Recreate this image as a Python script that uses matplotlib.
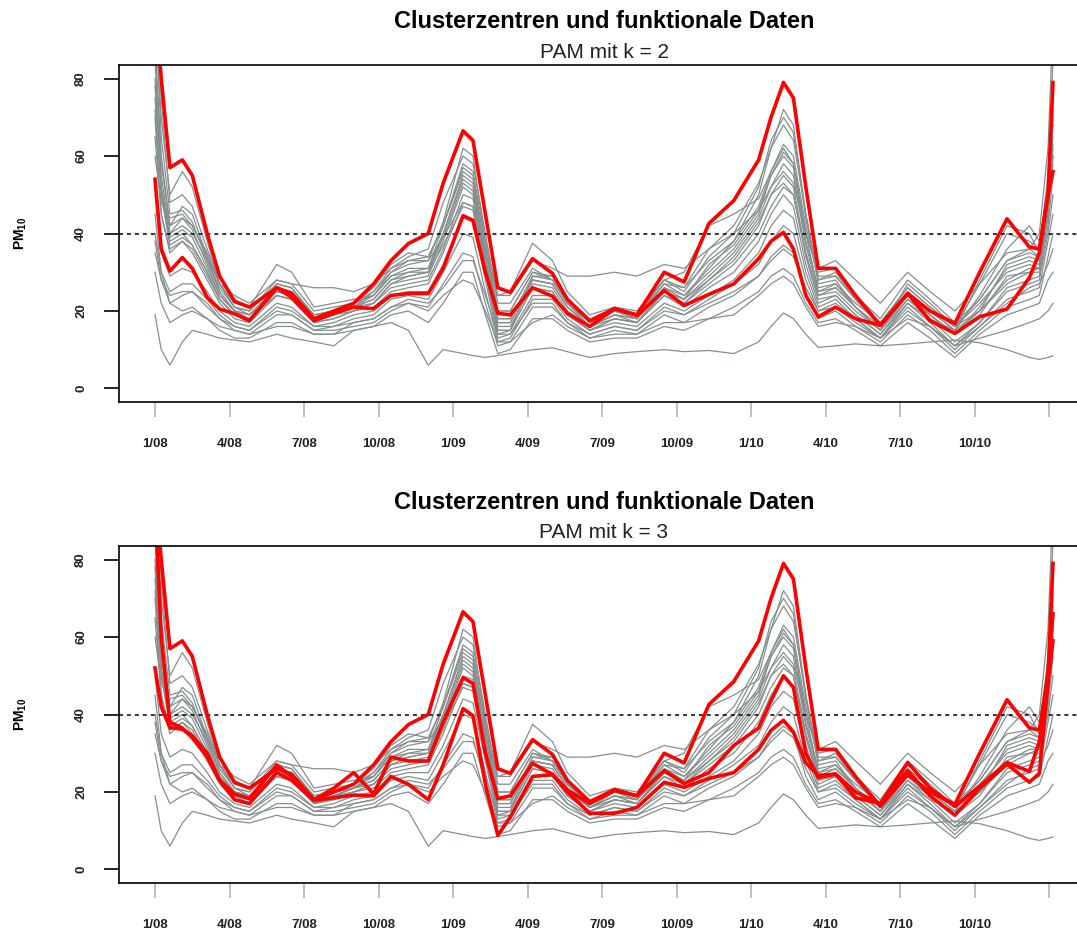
import matplotlib.pyplot as plt

plt.rcParams['font.family'] = 'Liberation Sans'
plt.rcParams['mathtext.fontset'] = 'custom'
plt.rcParams['mathtext.rm'] = 'Liberation Sans'
plt.rcParams['mathtext.bf'] = 'Liberation Sans:bold'

# months since 1/2008
months = [0, 0.25, 0.6, 1.1, 1.5, 2.1, 2.6, 3.2, 3.8, 4.9,
          5.5, 6.4, 7.2, 8.0, 8.8, 9.5, 10.2, 11.0, 11.6, 12.4,
          12.8, 13.3, 13.8, 14.3, 15.2, 16.0, 16.6, 17.5, 18.5, 19.4,
          20.5, 21.3, 22.3, 23.3, 24.3, 24.8, 25.3, 25.7, 26.2, 26.7,
          27.4, 28.2, 29.2, 30.3, 31.2, 32.2, 33.2, 34.3, 35.2, 35.6,
          35.95, 36.15]

tick_months = [0, 3, 6, 9, 12, 15, 18, 21, 24, 27, 30, 33, 36]
tick_labels = ['1/08', '4/08', '7/08', '10/08', '1/09', '4/09', '7/09',
               '10/09', '1/10', '4/10', '7/10', '10/10', '']
y_ticks = [0, 20, 40, 60, 80]
limit = 40  # PM10 daily limit

# cluster centres (PAM)
center_high = [100, 80, 57, 59, 55, 40, 29, 22.5, 21, 26,
               24.5, 18, 20, 22, 27, 33, 37.4, 40, 53, 66.5,
               64, 45, 26, 24.8, 33.5, 29.7, 23, 17.5, 20.6, 19,
               30, 27.5, 42.6, 48.5, 59, 70, 79, 75, 52, 31,
               31, 24, 16.3, 24.5, 20, 16.8, 30, 43.8, 36.5, 36,
               50, 79]
center_low = [54, 36, 30.3, 33.8, 31, 23.5, 20.5, 19.3, 17.5, 26,
              23.5, 17.5, 19.4, 21, 20.6, 24, 24.5, 24.5, 31, 44.6,
              43.4, 30, 19.4, 19, 26, 23.8, 19.4, 16, 20.6, 18.8,
              25.3, 21.4, 24.3, 27, 33.5, 38, 40.3, 36, 24, 18.5,
              21, 18, 16.3, 24.5, 17.5, 14.2, 18.5, 20.5, 28.6, 35,
              50, 56]
center_mid3 = [95, 60, 38, 36.5, 34, 29, 23, 19.5, 18.3, 27,
               24, 18, 21, 25, 19.5, 29, 28, 28, 38, 49.5,
               48, 30, 18.3, 19, 27.4, 24.5, 20.5, 17, 20.4, 19,
               25.5, 22.2, 25, 32, 36.5, 43.6, 50, 47, 30, 23.7,
               24.6, 20, 17, 27.6, 21, 16.3, 21.5, 27.6, 25.3, 33,
               50.6, 66]
center_low3 = [52, 42, 36.6, 36.2, 34.5, 30, 23, 18, 17, 25,
               23, 17.8, 18.5, 19.2, 19, 24, 22, 18, 27, 41.5,
               39.7, 22, 8.8, 13.5, 24, 24.5, 20, 14.5, 14.5, 16,
               22.5, 21.2, 23.5, 25, 31, 35.9, 38.5, 35.5, 27.5, 24.3,
               24.6, 18.5, 17, 25.5, 19, 14, 21, 27.2, 22.5, 24.8,
               48, 59]

# smoothed PM10 curves of the single stations
gray_curves = [
    [19, 10, 6, 12, 15, 14, 13, 12.5, 12, 14, 13, 12, 11, 15, 16, 17, 15, 6, 10, 9,
     8.5, 8, 8.5, 9, 10, 10.5, 9.5, 8, 9, 9.5, 10, 9.5, 9.8, 9, 12, 16, 19.5, 18, 14, 10.6,
     11, 11.5, 11, 11.5, 12, 12.5, 11.8, 10, 8, 7.5, 8, 8.4],
    [35, 28, 22, 20, 21, 18, 16, 15, 14, 16, 16, 14, 14, 17, 18, 21, 22, 20, 24, 28,
     27, 20, 12, 12, 17, 19, 16, 13, 14, 14, 17, 17, 18, 19, 24, 27, 29, 27, 21, 16,
     17, 16, 13, 18, 16, 11, 13, 15, 17, 18, 20, 22],
    [95, 70, 50, 56, 52, 38, 27, 21, 19, 24, 23, 17, 19, 21, 25, 31, 34, 36, 48, 60,
     58, 40, 22, 22, 31, 28, 22, 17, 20, 18, 27, 26, 36, 42, 53, 62, 68, 64, 45, 29,
     29, 23, 16, 24, 20, 16, 27, 40, 38, 36, 55, 75],
    [90, 60, 42, 47, 45, 34, 25, 20, 19, 26, 25, 19, 20, 21, 24, 29, 31, 31, 42, 57,
     55, 36, 18, 18, 28, 27, 21, 16, 19, 17, 25, 23, 32, 37, 46, 55, 61, 58, 40, 25,
     27, 21, 15, 23, 19, 14, 20, 32, 34, 33, 50, 68],
    [80, 50, 38, 40, 37, 30, 23, 19, 18, 25, 24, 18, 19, 21, 22, 27, 28, 29, 38, 52,
     50, 32, 16, 16, 27, 26, 20, 16, 19, 18, 25, 22, 28, 33, 42, 50, 55, 52, 35, 24,
     25, 20, 15, 24, 19, 14, 19, 29, 30, 30, 45, 60],
    [70, 45, 35, 38, 35, 28, 22, 18, 17, 24, 23, 17, 18, 20, 21, 25, 26, 27, 35, 48,
     47, 30, 14, 15, 26, 25, 19, 15, 18, 17, 24, 21, 26, 30, 38, 45, 50, 47, 32, 22,
     24, 19, 14, 23, 18, 12, 17, 26, 28, 29, 42, 55],
    [85, 55, 40, 42, 40, 33, 26, 21, 20, 28, 27, 20, 21, 22, 24, 29, 30, 31, 40, 55,
     53, 34, 18, 18, 29, 28, 22, 17, 20, 19, 27, 24, 30, 36, 45, 55, 60, 57, 38, 26,
     27, 22, 17, 26, 21, 16, 22, 30, 32, 31, 48, 63],
    [60, 48, 44, 45, 42, 34, 27, 24, 22, 28, 27, 26, 26, 25, 27, 31, 33, 33, 39, 48,
     47, 35, 24, 24, 33, 31, 29, 29, 30, 29, 32, 31, 36, 40, 46, 52, 56, 53, 40, 31,
     33, 28, 22, 30, 25, 20, 27, 35, 36, 34, 45, 60],
    [75, 52, 40, 44, 42, 35, 27, 22, 21, 32, 30, 21, 22, 23, 24, 30, 33, 34, 42, 58,
     56, 38, 24, 25, 37.5, 33, 25, 19, 21, 20, 28, 26, 33, 38, 47, 56, 62, 58, 40, 30,
     31, 24, 18, 28, 23, 17, 23, 33, 35, 34, 50, 70],
    [40, 30, 25, 27, 27, 23, 19, 16, 15, 21, 20, 16, 16, 18, 19, 23, 24, 23, 30, 40,
     39, 25, 12, 13, 23, 23, 18, 14, 16, 15, 21, 19, 23, 27, 32, 38, 42, 40, 28, 20,
     22, 18, 13, 21, 16, 10, 16, 23, 25, 26, 38, 45],
    [45, 30, 22, 24, 25, 22, 18, 15, 14, 19, 19, 15, 15, 16, 17, 20, 22, 21, 27, 35,
     34, 22, 11, 12, 21, 21, 17, 13, 15, 14, 19, 17, 21, 24, 29, 34, 37, 35, 24, 18,
     20, 16, 12, 19, 15, 9, 15, 21, 23, 24, 34, 40],
    [88, 58, 42, 44, 41, 32, 24, 20, 19, 26, 25, 19, 20, 22, 26, 32, 35, 34, 42, 56,
     54, 36, 20, 20, 30, 28, 22, 17, 20, 19, 28, 30, 42, 45, 49, 56, 63, 60, 42, 28,
     29, 23, 16, 25, 20, 15, 24, 36, 42, 38, 52, 72],
    [30, 22, 17, 19, 20, 18, 15, 13, 13, 17, 17, 14, 14, 15, 16, 19, 20, 17, 22, 30,
     30, 19, 9, 10, 18, 18, 15, 12, 13, 13, 16, 15, 18, 21, 25, 29, 31, 29, 22, 17,
     18, 15, 11, 17, 13, 8, 14, 19, 21, 22, 28, 30],
    [100, 65, 45, 46, 43, 33, 25, 20, 18, 25, 24, 18, 19, 21, 23, 28, 30, 30, 40, 54,
     52, 33, 17, 17, 28, 27, 21, 16, 19, 18, 26, 24, 31, 38, 50, 62, 72, 68, 45, 27,
     28, 21, 15, 25, 19, 14, 21, 31, 33, 32, 50, 85],
    [65, 45, 36, 38, 36, 29, 23, 19, 18, 24, 23, 17, 18, 20, 22, 26, 27, 28, 36, 50,
     49, 31, 15, 15, 26, 25, 19, 15, 18, 17, 24, 22, 27, 32, 40, 47, 52, 50, 34, 23,
     24, 19, 14, 22, 18, 15, 28, 42, 40, 35, 50, 65],
    [38, 28, 24, 25, 25, 21, 18, 16, 15, 20, 19, 15, 16, 17, 18, 21, 23, 22, 26, 33,
     33, 24, 14, 14, 22, 22, 17, 14, 16, 15, 20, 19, 22, 25, 29, 33, 36, 34, 26, 20,
     21, 17, 13, 20, 16, 11, 16, 22, 26, 27, 32, 36],
    [78, 52, 39, 41, 39, 31, 24, 20, 19, 26, 25, 18, 20, 21, 23, 28, 29, 30, 39, 53,
     51, 33, 17, 17, 28, 27, 21, 16, 20, 18, 26, 23, 29, 35, 44, 52, 58, 55, 37, 25,
     26, 21, 16, 25, 20, 15, 20, 28, 31, 31, 47, 62],
    [110, 75, 48, 50, 47, 36, 27, 21, 20, 27, 26, 19, 20, 22, 25, 30, 32, 33, 43, 62,
     60, 38, 20, 20, 30, 29, 23, 17, 21, 19, 28, 25, 34, 40, 52, 64, 70, 66, 44, 28,
     30, 23, 17, 26, 21, 16, 23, 33, 36, 40, 62, 95],
    [50, 35, 29, 31, 30, 25, 20, 17, 16, 22, 21, 16, 17, 19, 20, 24, 25, 25, 32, 44,
     43, 28, 13, 14, 24, 24, 19, 15, 17, 16, 22, 20, 24, 28, 35, 42, 46, 44, 30, 21,
     23, 18, 13, 22, 17, 11, 17, 25, 27, 28, 40, 50],
    [72, 50, 37, 39, 37, 30, 23, 19, 17, 27, 26, 18, 19, 20, 22, 27, 29, 30, 37, 47,
     46, 30, 15, 15, 29, 29, 22, 16, 18, 17, 25, 23, 28, 34, 43, 50, 53, 50, 35, 24,
     26, 21, 15, 27, 22, 16, 20, 27, 30, 31, 44, 58],
]

W, H = 1077, 940
fig = plt.figure(figsize=(W / 100, H / 100), dpi=100)


def draw_panel(top_px, k, centers):
    bottom_px = top_px + 337
    ax = fig.add_axes([119 / W, 1 - bottom_px / H, 970 / W, 337 / H])
    for curve in gray_curves:
        ax.plot(months, curve, color='#868f8f', lw=0.9, solid_joinstyle='round')
    ax.axhline(limit, color='black', lw=1.1, ls=(0, (2.6, 2.6)))
    for center in centers:
        ax.plot(months, center, color='#ff0000', lw=2.6, solid_joinstyle='round')
    ax.set_xlim(-1.45, 37.6)
    ax.set_ylim(-3.5, 83.5)
    for side in ax.spines.values():
        side.set_linewidth(1.2)
    ax.set_xticks(tick_months)
    ax.set_xticklabels(tick_labels, fontsize=9.5, fontweight='bold', color='#222222')
    ax.tick_params(axis='x', length=11, width=1.2, color='#b4b4b4', pad=15)
    ax.set_yticks(y_ticks)
    ax.set_yticklabels([str(v) for v in y_ticks], fontsize=9.5, fontweight='bold',
                       rotation=90, va='center', color='#222222')
    ax.tick_params(axis='y', length=11, width=1.2, pad=12)
    ax.set_ylabel(r'PM$_{\mathbf{10}}$', fontsize=10, fontweight='bold', labelpad=33)
    cx = (119 + 1089) / 2 / W
    fig.text(cx, 1 - (top_px - 44) / H, 'Clusterzentren und funktionale Daten',
             ha='center', va='center', fontsize=17, fontweight='bold')
    fig.text(cx, 1 - (top_px - 13) / H, 'PAM mit k = %d' % k,
             ha='center', va='center', fontsize=15, color='#222222')
    return ax


draw_panel(65, 2, [center_high, center_low])
draw_panel(546, 3, [center_high, center_mid3, center_low3])

fig.savefig('out.png', dpi=100)
